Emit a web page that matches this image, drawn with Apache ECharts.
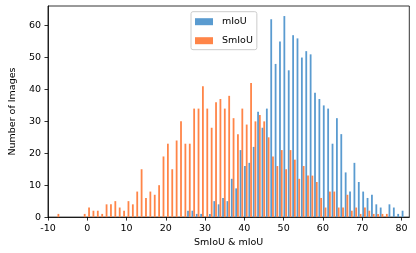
<!DOCTYPE html>
<html>
<head>
<meta charset="utf-8">
<script src="https://cdn.jsdelivr.net/npm/echarts@6/dist/echarts.min.js"></script>
<style>html,body{margin:0;padding:0;background:#fff}#c{width:416px;height:253px}</style>
</head>
<body>
<div id="c"></div>
<script>
// Histogram: 80 shared bins
const binStart = -8.13;
const binWidth = 1.115;
const seriesNames = ['mIoU', 'SmIoU'];
const mIoU = [
  0,0,0,0,0,0,0,0,0,0,
  0,0,0,0,0,0,0,0,0,0,
  0,0,0,0,0,0,0,0,0,0,
  2,2,1,1,0,1,5,4,6,5,
  12,9,21,16,17,22,33,28,34,62,
  48,55,63,46,57,56,50,52,51,39,
  37,35,34,23,31,26,14,8,17,11,
  8,6,7,4,3,0,4,3,1,2
];
const SmIoU = [
  1,0,0,0,0,0,1,3,2,2,
  1,4,4,5,3,2,5,4,8,15,
  6,8,7,10,19,23,15,24,30,23,
  23,34,34,41,34,28,36,37,34,38,
  31,26,34,29,42,30,32,30,25,19,
  16,21,15,21,18,12,16,13,13,11,
  6,3,8,8,3,3,7,2,3,1,
  3,2,1,1,1,1,0,0,0,0
];
const xTicks = [-10,0,10,20,30,40,50,60,70,80];
const yTicks = [0,10,20,30,40,50,60];

const blueC = '#5a9bd0';
const orangeC = '#ff8548';

function toBars(counts, frac) {
  return counts.map((v, i) => [binStart + (i + frac) * binWidth, v]);
}

const font = 'DejaVu Sans';
const chart = echarts.init(document.getElementById('c'), null, {renderer: 'canvas'});
chart.setOption({
  animation: false,
  grid: {left: 38.7, right: 6.7, top: 6, bottom: 35.7, show: true, borderColor: '#000', borderWidth: 0.8, backgroundColor: 'transparent'},
  legend: {
    orient: 'vertical', left: 191, top: 11.7,
    data: seriesNames,
    icon: 'rect', itemWidth: 18, itemHeight: 7, itemGap: 9,
    padding: [5, 4, 4, 4],
    borderColor: '#ccc', borderWidth: 1, borderRadius: 2,
    backgroundColor: 'rgba(255,255,255,0.8)',
    textStyle: {fontFamily: font, fontSize: 9.5, color: '#000', padding: [0, 0, 0, 4]}
  },
  xAxis: {
    type: 'value', min: -10, max: 82, interval: 10,
    name: 'SmIoU & mIoU', nameLocation: 'middle', nameGap: 16,
    nameTextStyle: {fontFamily: font, fontSize: 9.5, color: '#000'},
    axisLine: {show: true, onZero: false, lineStyle: {color: '#000', width: 0.8}},
    axisTick: {show: true, length: 3.5, lineStyle: {color: '#000', width: 0.8}, customValues: xTicks},
    axisLabel: {fontFamily: font, fontSize: 9.5, color: '#000', margin: 6, customValues: xTicks},
    splitLine: {show: false}
  },
  yAxis: {
    type: 'value', min: 0, max: 66.15, interval: 10,
    name: 'Number of Images', nameLocation: 'middle', nameGap: 22, nameRotate: 90,
    nameTextStyle: {fontFamily: font, fontSize: 9.5, color: '#000'},
    axisLine: {show: true, onZero: false, lineStyle: {color: '#000', width: 0.8}},
    axisTick: {show: true, length: 3.5, lineStyle: {color: '#000', width: 0.8}, customValues: yTicks},
    axisLabel: {fontFamily: font, fontSize: 9.5, color: '#000', margin: 7, customValues: yTicks},
    splitLine: {show: false}
  },
  series: [
    {name: 'mIoU', type: 'bar', data: toBars(mIoU, 0.3), barWidth: 1.8, barGap: '-100%', itemStyle: {color: blueC}},
    {name: 'SmIoU', type: 'bar', data: toBars(SmIoU, 0.7), barWidth: 1.8, barGap: '-100%', itemStyle: {color: orangeC}}
  ]
});
</script>
</body>
</html>
